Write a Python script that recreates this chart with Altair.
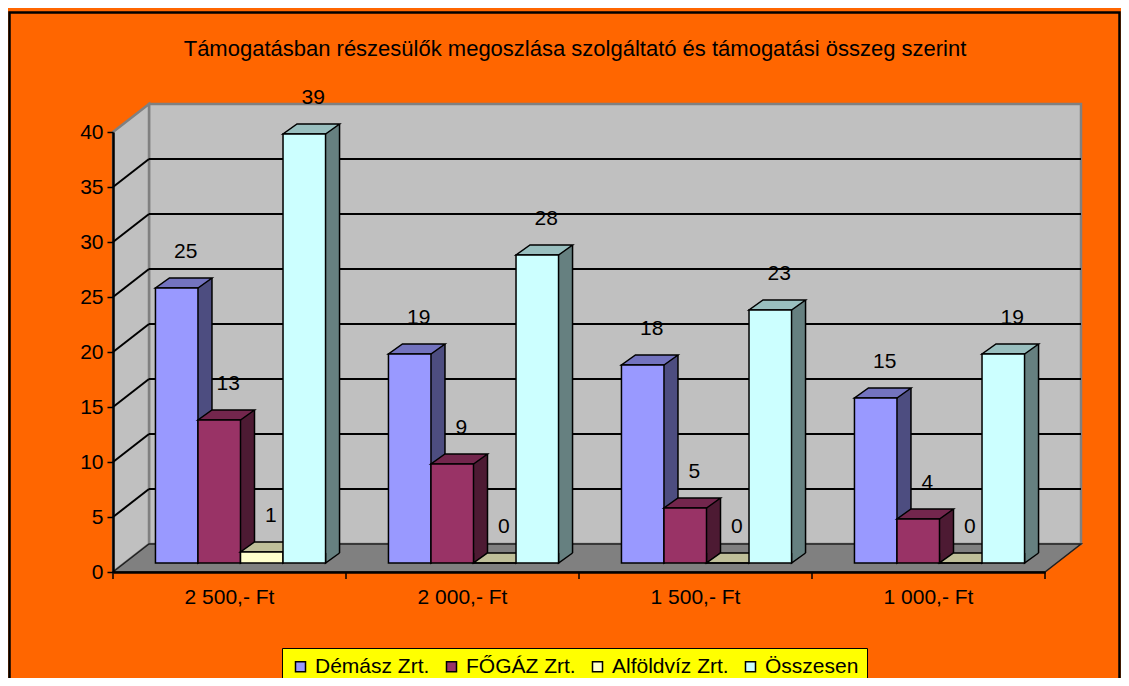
import altair as alt
import pandas as pd

# ---------------- data ----------------
categories = ["2 500,- Ft", "2 000,- Ft", "1 500,- Ft", "1 000,- Ft"]
series = ["Démász Zrt.", "FŐGÁZ Zrt.", "Alföldvíz Zrt.", "Összesen"]
demasz = [25, 19, 18, 15]
fogaz = [13, 9, 5, 4]
alfoldviz = [1, 0, 0, 0]
osszesen = [39, 28, 23, 19]
y_ticks = [0, 5, 10, 15, 20, 25, 30, 35, 40]
grid_values = [5, 10, 15, 20, 25, 30, 35]
title_text = "Támogatásban részesülők megoszlása szolgáltató és támogatási összeg szerint"

# ---------------- style ----------------
front_colors = ["#9999FF", "#993366", "#FFFFCC", "#CCFFFF"]
top_colors = ["#7373BF", "#73264D", "#BFBF99", "#99BFBF"]
side_colors = ["#4D4D80", "#4D1A33", "#808066", "#668080"]
FONT = "Liberation Sans"
FS = 21
TITLE_FS = 22
W, H = 932, 440          # plot area = front plane of the 3D box
DX, DY = 36, 28          # depth of the 3D box
BDX, BDY = 14, 10        # depth of each bar
SX, SY = (DX - BDX) / 2, (DY - BDY) / 2
PI, PO = 0.27, 0.135
PADL, PADT, PADR, PADB = 105, 124, 76, 106
STEP = W / (len(categories) - PI + 2 * PO)
BW = STEP * (1 - PI) / len(series)
LX, LY = 9, 36

rows = []
for s, vals in zip(series, [demasz, fogaz, alfoldviz, osszesen]):
    for c, v in zip(categories, vals):
        rows.append({"cat": c, "series": s, "value": v})
df = pd.DataFrame(rows)
cat_df = pd.DataFrame({"cat": categories})
wall_df = pd.DataFrame({"top": [y_ticks[-1]], "bottom": [y_ticks[0]]})
grid_df = pd.DataFrame({"v": grid_values})

y_scale = alt.Scale(domain=[y_ticks[0], y_ticks[-1]], nice=False, zero=True)
x_scale = alt.Scale(domain=categories, paddingInner=PI, paddingOuter=PO)

x_axis = alt.Axis(title=None, labelAngle=0, ticks=False, domainColor="black", domainWidth=2.5,
                  labelFont=FONT, labelFontSize=FS, labelColor="black", labelPadding=14, zindex=1)
y_axis = alt.Axis(values=y_ticks, title=None, grid=False, tickSize=6, tickWidth=1.5,
                  tickColor="black", domainColor="black", domainWidth=2.5,
                  labelFont=FONT, labelFontSize=FS, labelColor="black", labelPadding=4, zindex=1)

X = alt.X("cat:N", scale=x_scale, axis=x_axis)


def YF(field):
    return alt.Y(field, type="quantitative", scale=y_scale, axis=y_axis)


Y = YF("value")
Y2 = alt.Y2("base")


def path(points, close=True):
    s = "M" + " L".join(f"{px:.2f},{py:.2f}" for px, py in points)
    return s + (" Z" if close else "")


# ---------------- frame, title, walls, floor, grid ----------------
frame = alt.Chart(wall_df).mark_rect(filled=False, stroke="black", strokeWidth=2.5).encode(
    x=alt.value(-PADL + 1.5), x2=alt.value(W + PADR - 1.5),
    y=alt.value(-PADT + 4.5), y2=alt.value(H + PADB + 20))

title = alt.Chart(wall_df).mark_text(
    text=title_text, font=FONT, fontSize=TITLE_FS, color="black", align="center",
    baseline="alphabetic").encode(x=alt.value(W / 2 - 4), y=alt.value(-76))

back_wall = alt.Chart(wall_df).mark_rect(
    fill="#C0C0C0", stroke="#808080", strokeWidth=2.5, yOffset=-DY, y2Offset=-DY
).encode(x=alt.value(DX), x2=alt.value(W + DX), y=YF("top"), y2="bottom")

left_wall = alt.Chart(wall_df).mark_point(
    shape=path([(0, 0), (DX, -DY), (DX, H - DY), (0, H)]), size=4, filled=True, opacity=1,
    fill="#C0C0C0", stroke="#808080", strokeWidth=2.5
).encode(x=alt.value(0), y=YF("top"))

floor = alt.Chart(wall_df).mark_point(
    shape=path([(0, 0), (W, 0), (W + DX, -DY), (DX, -DY)]), size=4, filled=True, opacity=1,
    fill="#808080", stroke="#202020", strokeWidth=1.5
).encode(x=alt.value(0), y=YF("bottom"))

grid_back = alt.Chart(grid_df).mark_rule(color="black", strokeWidth=2, yOffset=-DY).encode(
    x=alt.value(DX), x2=alt.value(W + DX), y=YF("v"))
grid_left = alt.Chart(grid_df).mark_rule(color="black", strokeWidth=2, y2Offset=-DY).encode(
    x=alt.value(0), x2=alt.value(DX), y=YF("v"), y2="v")

xticks = alt.Chart(cat_df).mark_rule(color="black", strokeWidth=1.5, xOffset=-STEP / 2).encode(
    x=X, y=alt.value(H), y2=alt.value(H + 7))
xtick_last = alt.Chart(cat_df).transform_filter(
    alt.datum.cat == categories[-1]
).mark_rule(color="black", strokeWidth=1.5, xOffset=STEP / 2).encode(
    x=X, y=alt.value(H), y2=alt.value(H + 7))

# ---------------- 3D bars, one series after the other ----------------
legend = alt.Legend(title=None, orient="none", direction="horizontal",
                    legendX=169, legendY=516, fillColor="#FFFF00",
                    strokeColor="black", padding=8, columnPadding=11,
                    labelOffset=4, symbolType="square", symbolSize=100,
                    symbolStrokeColor="black", symbolStrokeWidth=1.5,
                    labelFont=FONT, labelFontSize=FS, labelColor="black", labelLimit=0)
front_scale = alt.Scale(domain=series, range=front_colors)

top_shape = path([(-BW / 2, 0), (BW / 2, 0), (BW / 2 + BDX, -BDY), (-BW / 2 + BDX, -BDY)])
bottom_shape = path([(BW / 2, -BDY), (BW / 2, 0), (BW / 2 + BDX, -BDY)], close=False)

bar_layers = []
label_layers = []
for k, s in enumerate(series):
    ck = (k - (len(series) - 1) / 2) * BW + SX
    src = alt.Chart(df).transform_filter(alt.datum.series == s).transform_calculate(base="0")
    side = src.mark_bar(width=BDX, xOffset=ck + BW / 2 + BDX / 2, fill=side_colors[k],
                        strokeWidth=0, yOffset=-SY - BDY, y2Offset=-SY - BDY).encode(
        x=X, y=Y, y2=Y2)
    side_bottom = src.mark_point(shape=bottom_shape, size=4, filled=True, opacity=1,
                                 fill=side_colors[k], stroke="black", strokeWidth=1.5,
                                 xOffset=ck, yOffset=-SY).encode(x=X, y=YF("base"))
    side_edge = src.mark_rule(color="black", strokeWidth=1.5, xOffset=ck + BW / 2 + BDX,
                              yOffset=-SY - BDY, y2Offset=-SY - BDY).encode(x=X, y=Y, y2=Y2)
    top = src.mark_point(shape=top_shape, size=4, filled=True, opacity=1, fill=top_colors[k],
                         stroke="black", strokeWidth=1.5, xOffset=ck, yOffset=-SY).encode(
        x=X, y=Y)
    front = src.mark_bar(width=BW, stroke="black", strokeWidth=1.5, xOffset=ck,
                         yOffset=-SY, y2Offset=-SY).encode(
        x=X, y=Y, y2=Y2,
        color=alt.Color("series:N", scale=front_scale, legend=legend))
    text = src.mark_text(font=FONT, fontSize=FS, color="black", baseline="middle",
                         xOffset=ck + LX, yOffset=-(SY + LY)).encode(
        x=X, y=Y, text="value:Q")
    bar_layers += [side, side_bottom, side_edge, top, front]
    label_layers.append(text)

chart = alt.layer(
    frame, title, back_wall, left_wall, grid_back, grid_left, floor, xticks, xtick_last,
    *bar_layers, *label_layers
).properties(
    width=W, height=H,
    autosize=alt.AutoSizeParams(type="none"),
    padding={"left": PADL, "top": PADT, "right": PADR, "bottom": PADB},
    background="#FF6600",
).configure_view(strokeWidth=0)

chart.save("out.html", embed_options={"renderer": "svg", "actions": False})
